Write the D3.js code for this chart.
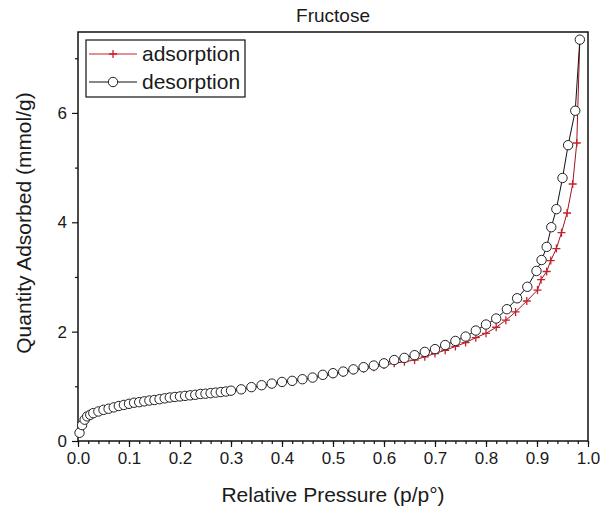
<!DOCTYPE html>
<html>
<head>
<meta charset="utf-8">
<script src="https://cdn.jsdelivr.net/npm/d3@7"></script>
<style>
  body { margin: 0; background: #fff; }
  svg text { font-family: "Liberation Sans", Arial, sans-serif; fill: #1a1a1a; }
</style>
</head>
<body>
<svg id="main"></svg>
<script>
// isotherm data (p/p0, mmol/g)
var desP = [0.003, 0.008, 0.013, 0.018, 0.024, 0.03, 0.04, 0.05, 0.06, 0.07, 0.08, 0.09, 0.10,
  0.11, 0.12, 0.13, 0.14, 0.15, 0.16, 0.17, 0.18, 0.19, 0.20, 0.21, 0.22, 0.23, 0.24, 0.25,
  0.26, 0.27, 0.28, 0.29, 0.30, 0.32, 0.34, 0.36, 0.38, 0.40, 0.42, 0.44, 0.46, 0.48, 0.50,
  0.52, 0.54, 0.56, 0.58, 0.60, 0.62, 0.64, 0.66, 0.68, 0.70, 0.72, 0.74, 0.76, 0.78, 0.80,
  0.82, 0.841, 0.861, 0.881, 0.899, 0.909, 0.919, 0.928, 0.938, 0.950, 0.961, 0.975, 0.984];
var desQ = [0.15, 0.29, 0.39, 0.45, 0.48, 0.51, 0.54, 0.57, 0.59, 0.615, 0.64, 0.66, 0.68,
  0.70, 0.71, 0.725, 0.74, 0.75, 0.765, 0.78, 0.795, 0.805, 0.815, 0.825, 0.835, 0.845, 0.86, 0.865,
  0.875, 0.885, 0.895, 0.905, 0.92, 0.945, 0.985, 1.02, 1.05, 1.08, 1.10, 1.13, 1.16, 1.21, 1.24,
  1.27, 1.31, 1.35, 1.38, 1.42, 1.48, 1.52, 1.57, 1.63, 1.68, 1.755, 1.83, 1.91, 2.02, 2.13,
  2.24, 2.41, 2.61, 2.82, 3.11, 3.31, 3.55, 3.91, 4.24, 4.81, 5.41, 6.04, 7.34];

var adsP = [0.003, 0.01, 0.02, 0.04, 0.06, 0.08, 0.10, 0.12, 0.14, 0.16, 0.18, 0.20, 0.22,
  0.24, 0.26, 0.28, 0.30, 0.32, 0.34, 0.36, 0.38, 0.40, 0.42, 0.44, 0.46, 0.48, 0.50, 0.52,
  0.54, 0.56, 0.58, 0.60, 0.62, 0.64, 0.66, 0.68, 0.70, 0.72, 0.74, 0.76, 0.78, 0.80, 0.82,
  0.839, 0.858, 0.880, 0.901, 0.908, 0.919, 0.927, 0.938, 0.948, 0.959, 0.970, 0.978, 0.984];
var adsQ = [0.15, 0.33, 0.46, 0.535, 0.585, 0.635, 0.675, 0.705, 0.735, 0.76, 0.79, 0.81, 0.83,
  0.855, 0.87, 0.89, 0.915, 0.94, 0.975, 1.01, 1.04, 1.07, 1.09, 1.12, 1.15, 1.19, 1.22, 1.25,
  1.29, 1.32, 1.35, 1.39, 1.42, 1.45, 1.48, 1.54, 1.60, 1.66, 1.73, 1.80, 1.89, 1.97, 2.08,
  2.21, 2.36, 2.56, 2.76, 2.95, 3.10, 3.30, 3.52, 3.81, 4.17, 4.70, 5.45, 7.34];

var xMajor = [0, 0.1, 0.2, 0.3, 0.4, 0.5, 0.6, 0.7, 0.8, 0.9, 1.0];
var yMajor = [0, 2, 4, 6];
var yMinor = [1, 3, 5, 7];
var seriesNames = ["adsorption", "desorption"];

var W = 613, H = 516;
var m = { left: 78, right: 25, top: 32, bottom: 75 };
var red = "#c8202a";

var s = d3.select("#main").attr("width", W).attr("height", H);

var x = d3.scaleLinear().domain([0, 1]).range([m.left, W - m.right]);
var y = d3.scaleLinear().domain([0, 7.48]).range([H - m.bottom, m.top]);

// minor ticks
var xMinor = d3.range(0, 51).map(function(i) { return i / 50; });
s.append("g").attr("transform", "translate(0," + (H - m.bottom) + ")")
  .call(d3.axisBottom(x).tickValues(xMinor).tickSize(3).tickFormat(""))
  .call(function(g) { g.select(".domain").remove(); });
s.append("g").attr("transform", "translate(" + m.left + ",0)")
  .call(d3.axisLeft(y).tickValues(yMinor).tickSize(3).tickFormat(""))
  .call(function(g) { g.select(".domain").remove(); });

var gx = s.append("g").attr("transform", "translate(0," + (H - m.bottom) + ")")
  .call(d3.axisBottom(x).tickValues(xMajor).tickSize(6).tickPadding(5).tickFormat(d3.format(".1f")));
gx.select(".domain").remove();
gx.selectAll("text").style("font-size", "17px");

var gy = s.append("g").attr("transform", "translate(" + m.left + ",0)")
  .call(d3.axisLeft(y).tickValues(yMajor).tickSize(6).tickPadding(5).tickFormat(d3.format("d")));
gy.select(".domain").remove();
gy.selectAll("text").style("font-size", "17px");

s.selectAll(".tick line").attr("stroke", "#111").attr("stroke-width", 1.2);

// frame
s.append("rect")
  .attr("x", m.left).attr("y", m.top)
  .attr("width", W - m.right - m.left).attr("height", H - m.bottom - m.top)
  .attr("fill", "none").attr("stroke", "#111").attr("stroke-width", 1.5);

var ads = adsP.map(function(p, i) { return [p, adsQ[i]]; });
var des = desP.map(function(p, i) { return [p, desQ[i]]; });
var line = d3.line().x(function(d) { return x(d[0]); }).y(function(d) { return y(d[1]); });

function plus(sel, size) {
  sel.append("path")
    .attr("d", "M" + (-size) + ",0H" + size + "M0," + (-size) + "V" + size)
    .attr("stroke", red).attr("stroke-width", 1.3).attr("fill", "none");
}

s.append("path").datum(ads).attr("d", line)
  .attr("fill", "none").attr("stroke", "#a0141e").attr("stroke-width", 1);
s.append("g").selectAll("g").data(ads).enter().append("g")
  .attr("transform", function(d) { return "translate(" + x(d[0]) + "," + y(d[1]) + ")"; })
  .call(plus, 4);

s.append("path").datum(des).attr("d", line)
  .attr("fill", "none").attr("stroke", "#111").attr("stroke-width", 1);
s.append("g").selectAll("circle").data(des).enter().append("circle")
  .attr("cx", function(d) { return x(d[0]); })
  .attr("cy", function(d) { return y(d[1]); })
  .attr("r", 4.7)
  .attr("fill", "#fff").attr("stroke", "#222").attr("stroke-width", 1);

// legend
var lg = s.append("g");
lg.append("rect").attr("x", 86).attr("y", 40).attr("width", 159).attr("height", 57)
  .attr("fill", "#fff").attr("stroke", "#111").attr("stroke-width", 1.2);
lg.append("line").attr("x1", 89).attr("x2", 137).attr("y1", 54).attr("y2", 54)
  .attr("stroke", red).attr("stroke-width", 1.2);
lg.append("g").attr("transform", "translate(113,54)").call(plus, 4);
lg.append("line").attr("x1", 89).attr("x2", 137).attr("y1", 82).attr("y2", 82)
  .attr("stroke", "#111").attr("stroke-width", 1.2);
lg.append("circle").attr("cx", 113).attr("cy", 82).attr("r", 4.7)
  .attr("fill", "#fff").attr("stroke", "#222");
lg.selectAll("text.lt").data(seriesNames).enter().append("text")
  .attr("class", "lt")
  .attr("x", 142).attr("y", function(d, i) { return 54 + i * 28; })
  .attr("dy", "0.35em")
  .style("font-size", "21px")
  .text(function(d) { return d; });

// titles
s.append("text").attr("x", (m.left + W - m.right) / 2).attr("y", 22)
  .attr("text-anchor", "middle").style("font-size", "19px").text("Fructose");
s.append("text").attr("x", (m.left + W - m.right) / 2).attr("y", 502)
  .attr("text-anchor", "middle").style("font-size", "21px").text("Relative Pressure (p/p°)");
s.append("text").attr("transform", "translate(31,223) rotate(-90)")
  .attr("text-anchor", "middle").style("font-size", "21px").text("Quantity Adsorbed (mmol/g)");
</script>
</body>
</html>
